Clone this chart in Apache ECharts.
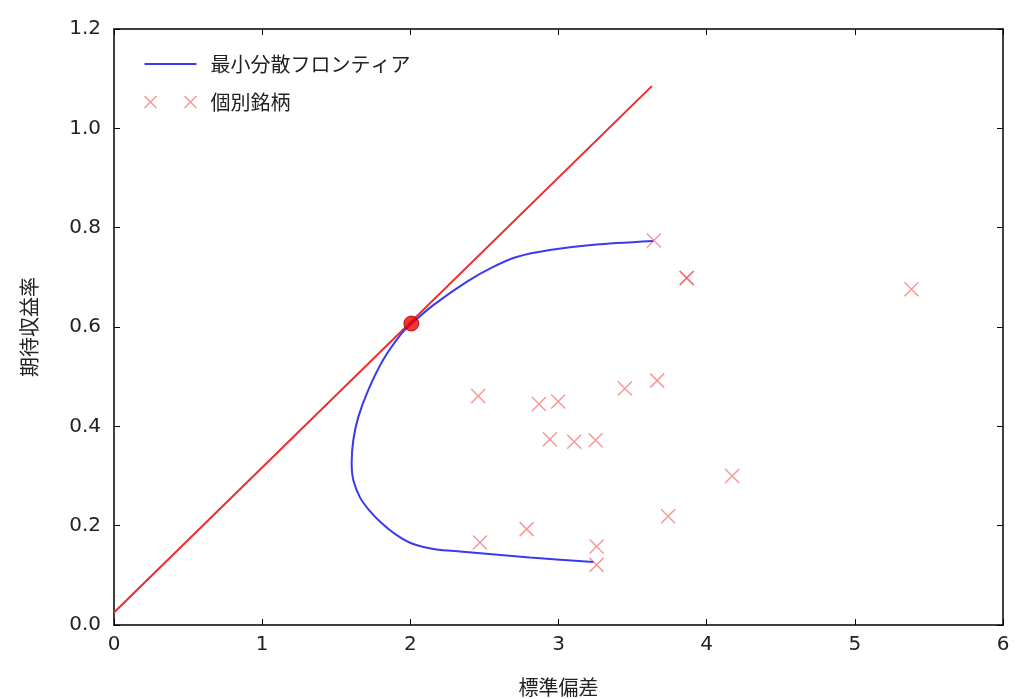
<!DOCTYPE html>
<html>
<head>
<meta charset="utf-8">
<script src="https://cdn.jsdelivr.net/npm/echarts@6/dist/echarts.min.js"></script>
<style>
html,body{margin:0;padding:0;background:#fff;}
#chart{width:1018px;height:699px;}
</style>
</head>
<body>
<div id="chart"></div>
<script>
// Labels
const xTitle = '標準偏差';
const yTitle = '期待収益率';
const frontierName = '最小分散フロンティア';
const stockName = '個別銘柄';

// Minimum-variance frontier (std dev, expected return)
const frontierX = [3.234, 2.807, 2.335, 2.177, 2.020, 1.908, 1.800, 1.720, 1.660, 1.615, 1.604, 1.615, 1.649, 1.716, 1.817, 1.941, 2.009, 2.155, 2.380, 2.559, 2.717, 2.942, 3.257, 3.639];
const frontierY = [0.127, 0.136, 0.148, 0.152, 0.163, 0.181, 0.207, 0.232, 0.257, 0.292, 0.326, 0.372, 0.419, 0.473, 0.534, 0.587, 0.607, 0.644, 0.691, 0.721, 0.741, 0.755, 0.766, 0.773];

// Individual stocks
const stockX = [2.458, 2.868, 2.998, 2.942, 3.106, 3.250, 3.448, 3.666, 3.740, 2.470, 2.785, 3.257, 3.257, 3.644, 3.864, 3.866, 5.382, 4.172];
const stockY = [0.461, 0.445, 0.450, 0.374, 0.369, 0.372, 0.476, 0.492, 0.219, 0.166, 0.193, 0.158, 0.121, 0.774, 0.698, 0.699, 0.676, 0.300];

// Capital market line (tangent line)
const cmlX = [0, 3.63];
const cmlY = [0.025, 1.085];

// Tangency portfolio
const tangentX = [2.007];
const tangentY = [0.607];

// Axis ticks
const xTicks = [0, 1, 2, 3, 4, 5, 6];
const yTicks = [0.0, 0.2, 0.4, 0.6, 0.8, 1.0, 1.2];

const zip = (a, b) => a.map((v, i) => [v, b[i]]);
const crossPath = 'path://M0,0L10,10M10,0L0,10';
const crossColor = 'rgba(240,40,40,0.6)';
const blue = '#3a3aee';
const numFont = 'DejaVu Sans';
const jpFont = 'Noto Sans CJK JP';

const chart = echarts.init(document.getElementById('chart'));
const baseAxisX = {
  type: 'value', min: xTicks[0], max: xTicks[xTicks.length - 1], interval: 1,
  axisLine: { show: true, onZero: false, lineStyle: { color: '#000', width: 1.5 } },
  axisTick: { show: true, inside: true, length: 6, lineStyle: { color: '#000', width: 1 } },
  splitLine: { show: false }
};
const baseAxisY = {
  type: 'value', min: yTicks[0], max: yTicks[yTicks.length - 1], interval: 0.2,
  axisLine: { show: true, onZero: false, lineStyle: { color: '#000', width: 1.5 } },
  axisTick: { show: true, inside: true, length: 6, lineStyle: { color: '#000', width: 1 } },
  splitLine: { show: false }
};

chart.setOption({
  animation: false,
  backgroundColor: '#fff',
  grid: { left: 114, right: 15, top: 29, bottom: 74, containLabel: false, outerBoundsMode: 'none' },
  legend: {
    orient: 'vertical', left: 137, top: 49,
    itemWidth: 52, itemHeight: 14, itemGap: 18,
    symbolKeepAspect: true,
    textStyle: { fontFamily: jpFont, fontSize: 20, color: '#222', padding: [0, 0, 0, 9] },
    data: [
      { name: frontierName, icon: 'path://M0,0L52,0L52,2.2L0,2.2Z',
        itemStyle: { color: blue, borderWidth: 0 } },
      { name: stockName, icon: 'path://M0,0L12,12M12,0L0,12M40,0L52,12M52,0L40,12',
        itemStyle: { color: 'none', borderColor: crossColor, borderWidth: 1.5 } }
    ]
  },
  xAxis: [
    Object.assign({}, baseAxisX, {
      position: 'bottom',
      name: xTitle, nameLocation: 'middle', nameGap: 52,
      nameTextStyle: { fontFamily: jpFont, fontSize: 20, color: '#222' },
      axisLabel: { fontFamily: numFont, fontSize: 20, color: '#222', margin: 10 }
    }),
    Object.assign({}, baseAxisX, { position: 'top', axisLabel: { show: false } })
  ],
  yAxis: [
    Object.assign({}, baseAxisY, {
      position: 'left',
      name: yTitle, nameLocation: 'middle', nameGap: 75, nameRotate: 90,
      nameTextStyle: { fontFamily: jpFont, fontSize: 20, color: '#222' },
      axisLabel: { fontFamily: numFont, fontSize: 20, color: '#222', margin: 13,
        formatter: v => v.toFixed(1) }
    }),
    Object.assign({}, baseAxisY, { position: 'right', axisLabel: { show: false } })
  ],
  series: [
    {
      name: 'CML', type: 'line', data: zip(cmlX, cmlY), symbol: 'none',
      lineStyle: { color: '#ee2a2a', width: 2 }, z: 2, silent: true
    },
    {
      name: frontierName, type: 'line', data: zip(frontierX, frontierY), symbol: 'none',
      smooth: 0.2, itemStyle: { color: blue },
      lineStyle: { color: blue, width: 2 }, z: 3
    },
    {
      name: stockName, type: 'scatter', data: zip(stockX, stockY),
      symbol: crossPath, symbolSize: 14,
      itemStyle: { color: 'none', borderColor: crossColor, borderWidth: 1.5 }, z: 4
    },
    {
      name: 'tangent', type: 'scatter', data: zip(tangentX, tangentY),
      symbol: 'circle', symbolSize: 15,
      itemStyle: { color: '#ee0000', borderColor: '#990000', borderWidth: 1 }, z: 5
    }
  ]
});
</script>
</body>
</html>
